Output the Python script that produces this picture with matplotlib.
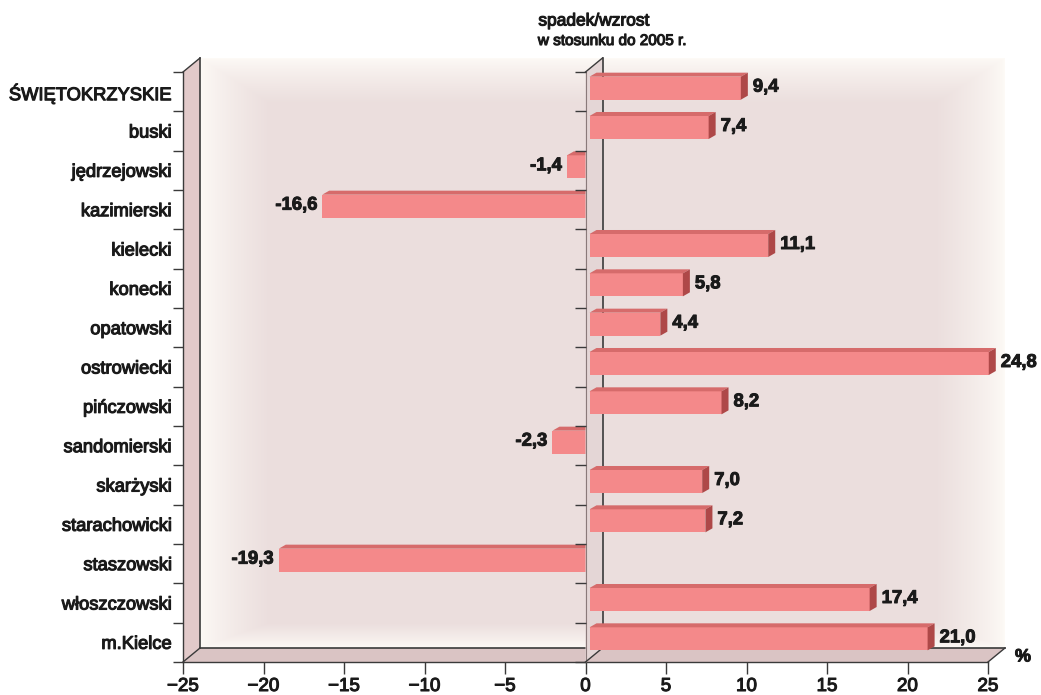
import numpy as np
import matplotlib
matplotlib.use('Agg')
import matplotlib.pyplot as plt
from matplotlib.patches import Polygon
from matplotlib.lines import Line2D
from matplotlib.transforms import Affine2D, IdentityTransform
import matplotlib.patheffects as pe

# ---------------- data ----------------
categories = ["ŚWIĘTOKRZYSKIE", "buski", "jędrzejowski", "kazimierski", "kielecki",
              "konecki", "opatowski", "ostrowiecki", "pińczowski", "sandomierski",
              "skarżyski", "starachowicki", "staszowski", "włoszczowski", "m.Kielce"]
values = [9.4, 7.4, -1.4, -16.6, 11.1, 5.8, 4.4, 24.8, 8.2, -2.3, 7.0, 7.2, -19.3, 17.4, 21.0]
x_ticks = [-25, -20, -15, -10, -5, 0, 5, 10, 15, 20, 25]
title_lines = ["spadek/wzrost", "w stosunku do 2005 r."]
unit_label = "%"

# ---------------- style ----------------
W, H = 1041, 695
plt.rcParams['font.family'] = ['Liberation Sans', 'DejaVu Sans']
TXT = '#1a1a1a'
LINE = '#3a3a3a'
BAR_FRONT = '#F4898A'
BAR_TOP = '#D66B6B'
BAR_SIDE = '#AE4848'
WALL_LEFT = '#E2CACA'
FLOOR = '#DAC4C4'
ZWALL = '#E4D6D6'
CENTER = np.array([0xEB, 0xDE, 0xDD]) / 255.0
EDGE = np.array([0xFD, 0xFA, 0xF6]) / 255.0
DX, DY = 17, 14        # depth of chart box (px)
BX, BY = 4, 3.5        # bar position inside depth (px)
BDX, BDY = 7, 4        # bar depth (px)
BAR_H = 0.585

fig = plt.figure(figsize=(W / 100, H / 100), dpi=100)
ax = fig.add_axes([183 / W, (H - 662) / H, 805 / W, 590 / H])
n = len(categories)
ax.set_xlim(x_ticks[0], x_ticks[-1])
ax.set_ylim(n - 0.5, -0.5)
ax.set_autoscale_on(False)
ax.patch.set_visible(False)
for s in ['top', 'right']:
    ax.spines[s].set_visible(False)
for s in ['left', 'bottom']:
    ax.spines[s].set_color(LINE)
    ax.spines[s].set_linewidth(1.0)
    ax.spines[s].set_zorder(1.5)

ID = IdentityTransform()


def disp(x, y):
    return ax.transData.transform((x, y))


def poly(pts, fc, z, ec='none', lw=0.0):
    ax.add_patch(Polygon(pts, closed=True, facecolor=fc, edgecolor=ec, linewidth=lw,
                         transform=ID, clip_on=False, zorder=z))


def line(p, q, z, color=LINE, lw=1.0):
    ax.add_line(Line2D([p[0], q[0]], [p[1], q[1]], color=color, linewidth=lw,
                       transform=ID, clip_on=False, zorder=z))


xmin, xmax = x_ticks[0], x_ticks[-1]
ytop, ybot = -0.5, n - 0.5
fbl = disp(xmin, ybot)   # front bottom-left
ftl = disp(xmin, ytop)
fbr = disp(xmax, ybot)
fb0 = disp(0, ybot)
ft0 = disp(0, ytop)
off = np.array([DX, DY])

# ---- back wall gradient ----
bx0, by0 = fbl + off
bx1, by1 = disp(xmax, ytop) + off
w = int(round(bx1 - bx0))
h = int(round(by1 - by0))
jj = np.arange(w)[None, :]
ii = np.arange(h)[:, None]
t = np.minimum.reduce([jj / 70.0 + 0 * ii, (w - 1 - jj) / 70.0 + 0 * ii,
                       ii / 45.0 + 0 * jj, (h - 1 - ii) / 25.0 + 0 * jj])
t = np.clip(t, 0, 1) ** 0.8
img = EDGE[None, None, :] + (CENTER - EDGE)[None, None, :] * t[:, :, None]
fig.figimage(img, xo=int(round(bx0)), yo=int(round(by0)), origin='upper', zorder=-1)

# ---- left wall ----
poly([fbl, ftl, ftl + off, fbl + off], WALL_LEFT, 1)
line(ftl, ftl + off, 1.6)
line(ftl + off, fbl + off, 1.6, lw=1.2)
# ---- floor ----
poly([fbl, fbr, fbr + off, fbl + off], FLOOR, 1)
line(fbl, fbl + off, 1.6)
line(fbl + off, fbr + off, 1.6, lw=1.2)
line(fbr, fbr + off, 1.6)

# ---- bars ----
val_stroke = [pe.withStroke(linewidth=0.7, foreground=TXT)]
bar_tr = ax.transData + Affine2D().translate(BX, BY)
bars = ax.barh(range(n), values, height=BAR_H, left=0, color=BAR_FRONT,
               transform=bar_tr, clip_on=False)
for i, (b, v) in enumerate(zip(bars, values)):
    z = 2 if v < 0 else 4
    b.set_zorder(z)
    p1 = disp(min(0, v), i - BAR_H / 2) + [BX, BY]
    p2 = disp(max(0, v), i + BAR_H / 2) + [BX, BY]
    xl, xr = p1[0], p2[0]
    yt, yb = max(p1[1], p2[1]), min(p1[1], p2[1])
    poly([(xl, yt), (xr, yt), (xr + BDX, yt + BDY), (xl + BDX, yt + BDY)], BAR_TOP, z)
    lab = f"{v:.1f}".replace('.', ',')
    ym = (yt + yb) / 2 + 1
    if v >= 0:
        poly([(xr, yb), (xr, yt), (xr + BDX, yt + BDY), (xr + BDX, yb + BDY)], BAR_SIDE, z)
        ax.text(xr + BDX + 5, ym, lab, transform=ID, ha='left', va='center',
                fontsize=13.3, fontweight='bold', color=TXT, zorder=6,
                path_effects=val_stroke)
    else:
        ax.text(xl - 5, ym, lab, transform=ID, ha='right', va='center',
                fontsize=13.3, fontweight='bold', color=TXT, zorder=6,
                path_effects=val_stroke)

# ---- zero wall ----
poly([fb0, ft0, ft0 + off, fb0 + off], ZWALL, 3)
line(fb0, ft0, 3.1, color='#8a7a7a', lw=0.8)
line(ft0, ft0 + off, 3.1)
line(ft0 + off, fb0 + off, 3.1, lw=1.2)
line(fb0, fb0 + off, 3.1)
bounds = np.arange(-0.5, n, 1.0)
ax.plot(np.zeros(len(bounds)), bounds, ls='none', marker=0, ms=8, mew=1.0,
        color=LINE, clip_on=False, zorder=3.2)

# ---- ticks & labels ----
stroke = [pe.withStroke(linewidth=0.8, foreground=TXT)]
ax.set_xticks(x_ticks)
ax.tick_params(axis='x', length=8.5, width=1.0, color=LINE, pad=3, labelsize=13.5,
               labelcolor=TXT)
ax.set_yticks(range(n))
ax.set_yticklabels(categories)
ax.tick_params(axis='y', which='major', length=0, pad=8, labelsize=13.2, labelcolor=TXT)
ax.set_yticks(bounds, minor=True)
ax.tick_params(axis='y', which='minor', length=7.5, width=1.0, color=LINE)
for tl in ax.get_yticklabels() + ax.get_xticklabels():
    tl.set_path_effects(stroke)

fig.text(594 / W, 1 - 21 / H, title_lines[0], ha='center', va='center', fontsize=12.5,
         color=TXT, path_effects=stroke)
fig.text(612 / W, 1 - 41 / H, title_lines[1], ha='center', va='center', fontsize=11,
         color=TXT, path_effects=stroke)
fig.text(1023 / W, 1 - 657 / H, unit_label, ha='center', va='center', fontsize=13,
         fontweight='bold', color=TXT, path_effects=val_stroke)

fig.savefig('out.png', dpi=100)
